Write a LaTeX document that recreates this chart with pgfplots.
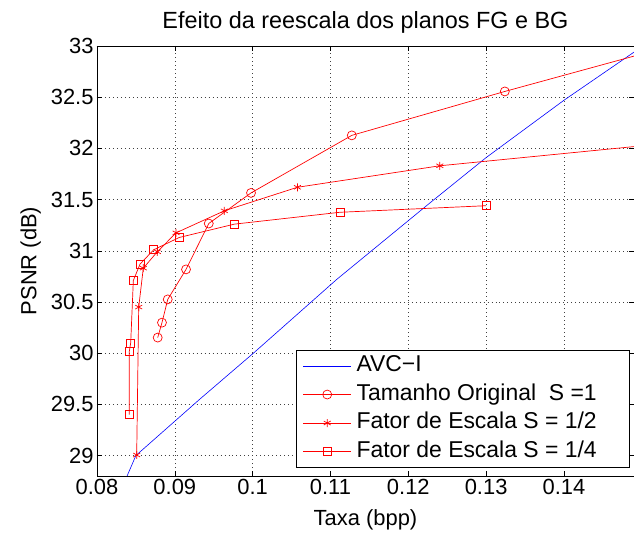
\documentclass[border=0pt]{standalone}
\usepackage{fontspec}
\setmainfont{Liberation Sans}
\usepackage{pgfplots}
\pgfplotsset{compat=1.18}

\newcommand{\chartfont}{\fontsize{22}{25}\selectfont}

% hollow red square, colour set inside the mark itself
\pgfdeclareplotmark{hsq}{%
  \pgfsetstrokecolor{red}%
  \pgfpathmoveto{\pgfqpoint{-\pgfplotmarksize}{-\pgfplotmarksize}}%
  \pgfpathlineto{\pgfqpoint{\pgfplotmarksize}{-\pgfplotmarksize}}%
  \pgfpathlineto{\pgfqpoint{\pgfplotmarksize}{\pgfplotmarksize}}%
  \pgfpathlineto{\pgfqpoint{-\pgfplotmarksize}{\pgfplotmarksize}}%
  \pgfpathclose
  \pgfusepathqstroke}

\begin{document}
\begin{tikzpicture}[font=\chartfont]
\begin{axis}[
    scale only axis,
    width=537bp, height=430bp,
    xmin=0.08, xmax=0.149,
    ymin=28.8, ymax=33,
    xtick={0.08,0.09,0.1,0.11,0.12,0.13,0.14},
    ytick={29,29.5,30,30.5,31,31.5,32,32.5,33},
    scaled x ticks=false,
    xticklabel style={/pgf/number format/fixed, /pgf/number format/precision=2},
    /pgf/number format/assume math mode=true,
    tick label style={font=\chartfont},
    label style={font=\chartfont},
    xlabel style={yshift=-8bp},
    ylabel style={yshift=3bp},
    title style={font=\fontsize{23.5}{26}\selectfont, yshift=3bp},
    tick align=inside,
    major tick length=5bp,
    tick style={black, line width=0.5pt},
    axis line style={black, line width=0.6pt},
    grid=major,
    grid style={black!75, line width=0.5pt, dash pattern=on 0.6pt off 3.4pt},
    title={Efeito da reescala dos planos FG e BG},
    xlabel={Taxa (bpp)},
    ylabel={PSNR (dB)},
    clip marker paths=true,
    legend cell align=left,
    legend style={at={(0.9925,0.019)}, anchor=south east, draw=black,
        line width=0.6pt, inner xsep=7bp, inner ysep=2.5bp, row sep=1.5bp,
        font=\fontsize{23}{25}\selectfont,
        nodes={inner xsep=2bp, inner ysep=2bp, text height=17bp, text depth=6bp},
        /tikz/every odd column/.append style={column sep=3bp}},
    legend image code/.code={
        \draw[mark repeat=2, mark phase=2] plot coordinates {(0bp,0bp)(24bp,0bp)(48bp,0bp)};},
]

% AVC-I
\addplot[color=blue, line width=0.6pt] coordinates {
    (0.0833,28.7)(0.0850,29.0)(0.0932,29.55)(0.1001,30.0)(0.1108,30.72)
    (0.1225,31.45)(0.1300,31.91)(0.1400,32.47)(0.1490,32.94)(0.1550,33.25)
};

% tamanho original
\addplot[color=red, line width=0.7pt, mark=o, mark size=4.5pt,
    mark options={draw=red, solid, line width=0.7pt}] coordinates {
    (0.0878,30.152)(0.08835,30.298)(0.08909,30.525)(0.09144,30.818)(0.09436,31.266)
    (0.09979,31.565)(0.11274,32.127)(0.1324,32.556)(0.16,33.13)
};

% escala 1/2
\addplot[color=red, line width=0.7pt, mark=asterisk, mark size=4pt,
    mark options={draw=red, solid, line width=0.7pt}] coordinates {
    (0.0851,29.005)(0.08536,30.45)(0.08595,30.83)(0.08775,30.99)(0.09016,31.175)
    (0.09636,31.39)(0.10575,31.62)(0.12405,31.83)(0.16,32.10)
};

% escala 1/4
\addplot[color=red, line width=0.7pt, mark=hsq, mark size=4pt,
    mark options={draw=red, solid, line width=0.7pt}] coordinates {
    (0.08415,29.40)(0.08415,30.016)(0.08433,30.10)(0.08467,30.71)(0.08553,30.87)
    (0.08729,31.01)(0.09058,31.13)(0.09765,31.26)(0.11123,31.376)(0.13,31.44)
};

\legend{AVC{\textminus}I,
    Tamanho Original\ \ S =1\hspace*{24bp},
    Fator de Escala S = 1/2\hspace*{24bp},
    Fator de Escala S = 1/4\hspace*{24bp}}
\end{axis}
\pgfresetboundingbox
\path[use as bounding box] ([shift={(-97bp,-62bp)}]current axis.south west) rectangle ([shift={(0bp,46bp)}]current axis.north east);
\end{tikzpicture}
\end{document}
